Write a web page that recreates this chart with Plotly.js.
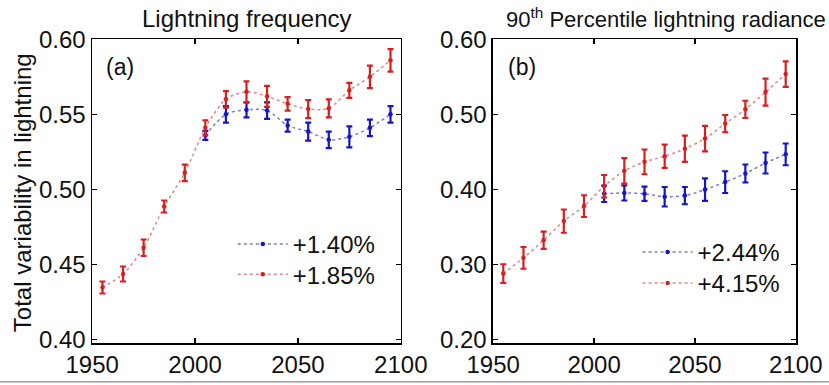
<!DOCTYPE html>
<html><head><meta charset="utf-8">
<script src="https://cdn.plot.ly/plotly-3.0.1.min.js"></script>
<style>html,body{margin:0;padding:0;background:#fff}</style>
</head><body><div id="chart" style="width:829px;height:385px"></div>
<script>
// ---- data ----
const yearsAll = [1955,1965,1975,1985,1995,2005,2015,2025,2035,2045,2055,2065,2075,2085,2095];
const yearsFuture = [2005,2015,2025,2035,2045,2055,2065,2075,2085,2095];

// (a) Lightning frequency
const freqBlueName = "+1.40%";
const freqBlue    = [0.536,0.550,0.553,0.5525,0.5425,0.5385,0.533,0.535,0.541,0.550];
const freqBlueErr = [0.003,0.0055,0.005,0.0055,0.004,0.006,0.0055,0.007,0.0055,0.0055];
const freqRedName = "+1.85%";
const freqRed     = [0.4345,0.4435,0.461,0.4885,0.511,0.541,0.560,0.565,0.562,0.557,0.5535,0.554,0.566,0.575,0.586];
const freqRedErr  = [0.004,0.005,0.0055,0.004,0.0055,0.005,0.0055,0.007,0.007,0.0045,0.006,0.006,0.005,0.0075,0.0075];

// (b) 90th percentile lightning radiance
const radBlueName = "+2.44%";
const radBlue    = [0.394,0.395,0.394,0.390,0.3915,0.3995,0.4095,0.421,0.435,0.4465];
const radBlueErr = [0.011,0.010,0.0095,0.013,0.0115,0.015,0.0145,0.012,0.014,0.0145];
const radRedName = "+4.15%";
const radRed     = [0.2875,0.3085,0.332,0.3575,0.3775,0.404,0.4245,0.4365,0.444,0.454,0.4675,0.4875,0.5065,0.5295,0.5535];
const radRedErr  = [0.0125,0.0145,0.0115,0.0155,0.0145,0.015,0.017,0.0165,0.0155,0.0175,0.017,0.0115,0.0115,0.018,0.017];

const xTicks = [1950,2000,2050,2100];
const yTicksA = [0.40,0.45,0.50,0.55,0.60];
const yTicksB = [0.20,0.30,0.40,0.50,0.60];

// ---- styles ----
const FONT = "Liberation Sans, Arial, sans-serif";
const BLUE = "#1515c8", RED = "#d81e1e";
const BLUE_LINE = "rgba(70,70,150,0.7)", RED_LINE = "rgba(200,100,100,0.75)";

function series(x, y, err, name, color, lineColor, xa, ya, leg) {
  return {
    type: "scatter", mode: "lines+markers", x: x, y: y, name: name,
    xaxis: xa, yaxis: ya, legend: leg,
    line: {color: lineColor, width: 1.5, dash: "dot", shape: "spline", smoothing: 0.8},
    marker: {color: color, size: 4.5},
    error_y: {type: "data", array: err, visible: true, color: color, thickness: 2.2, width: 3}
  };
}

const data = [
  series(yearsFuture, freqBlue, freqBlueErr, freqBlueName, BLUE, BLUE_LINE, "x", "y", "legend"),
  series(yearsAll, freqRed, freqRedErr, freqRedName, RED, RED_LINE, "x", "y", "legend2"),
  series(yearsFuture, radBlue, radBlueErr, radBlueName, BLUE, BLUE_LINE, "x2", "y2", "legend3"),
  series(yearsAll, radRed, radRedErr, radRedName, RED, RED_LINE, "x2", "y2", "legend4")
];

const axBase = {
  showline: true, linecolor: "#000", linewidth: 1.5, mirror: "ticks",
  ticks: "inside", ticklen: 5, tickwidth: 1.2, tickcolor: "#000",
  showgrid: false, zeroline: false,
  tickfont: {family: FONT, size: 24, color: "#111"}
};

const legBase = {
  font: {family: FONT, size: 24, color: "#111"},
  bgcolor: "rgba(0,0,0,0)", borderwidth: 0,
  xanchor: "left", yanchor: "top", itemwidth: 50, tracegroupgap: 0
};

const layout = {
  width: 829, height: 385,
  margin: {l: 92, r: 33, t: 39, b: 42},
  paper_bgcolor: "#fff", plot_bgcolor: "#fff",
  showlegend: true,
  xaxis: Object.assign({}, axBase, {domain: [0, 0.4389], range: [1949.9, 2100.1], tickvals: xTicks, anchor: "y"}),
  yaxis: Object.assign({}, axBase, {range: [0.3975, 0.6002], tickvals: yTicksA, tickformat: ".2f", anchor: "x"}),
  xaxis2: Object.assign({}, axBase, {domain: [0.5696, 1], range: [1949.9, 2100.1], tickvals: xTicks, anchor: "y2"}),
  yaxis2: Object.assign({}, axBase, {range: [0.195, 0.6003], tickvals: yTicksB, tickformat: ".2f", anchor: "x2"}),
  legend:  Object.assign({}, legBase, {x: 0.20, y: 0.398}),
  legend2: Object.assign({}, legBase, {x: 0.20, y: 0.299}),
  legend3: Object.assign({}, legBase, {x: 0.775, y: 0.372}),
  legend4: Object.assign({}, legBase, {x: 0.775, y: 0.270}),
  annotations: [
    {text: "Lightning frequency", xref: "x domain", yref: "paper", x: 0.5, y: 1.069, xanchor: "center", yanchor: "middle", showarrow: false, font: {family: FONT, size: 24, color: "#111"}},
    {text: "90<sup>th</sup> Percentile lightning radiance", xref: "x2 domain", yref: "paper", x: 0.571, y: 1.069, xanchor: "center", yanchor: "middle", showarrow: false, font: {family: FONT, size: 22, color: "#111"}},
    {text: "Total variability in lightning", textangle: -90, xref: "paper", yref: "paper", x: -0.0994, y: 0.493, xanchor: "center", yanchor: "middle", showarrow: false, font: {family: FONT, size: 24, color: "#111"}},
    {text: "(a)", xref: "x domain", yref: "paper", x: 0.0906, y: 0.908, xanchor: "center", yanchor: "middle", showarrow: false, font: {family: FONT, size: 23, color: "#111"}},
    {text: "(b)", xref: "x2 domain", yref: "paper", x: 0.0957, y: 0.908, xanchor: "center", yanchor: "middle", showarrow: false, font: {family: FONT, size: 23, color: "#111"}}
  ],
  shapes: [
    {type: "line", xref: "paper", yref: "paper", x0: -0.131, x1: 1.047, y0: -0.128, y1: -0.128, line: {color: "#8a8a8a", width: 1.2}}
  ]
};

Plotly.newPlot("chart", data, layout, {displayModeBar: false, staticPlot: true});
</script>
</body></html>
